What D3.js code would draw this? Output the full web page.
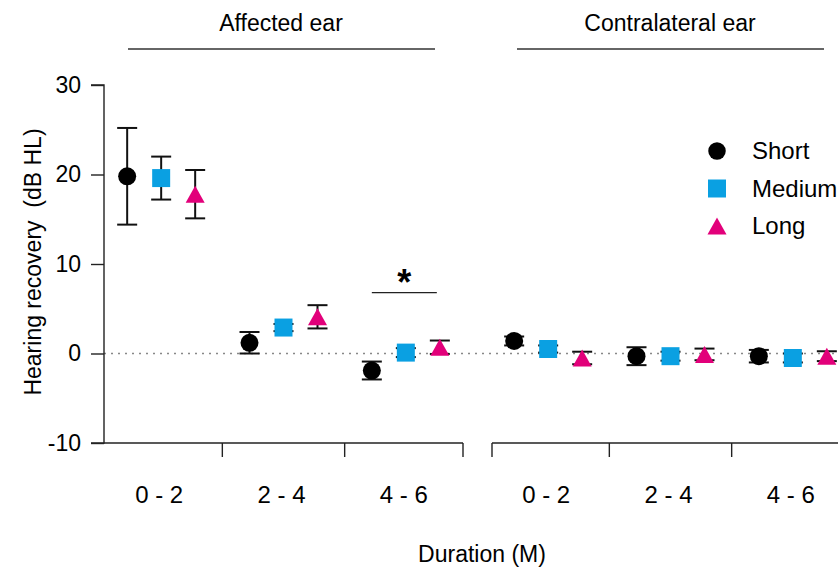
<!DOCTYPE html>
<html>
<head>
<meta charset="utf-8">
<script src="https://cdn.jsdelivr.net/npm/d3@7"></script>
<style>
  html, body { margin: 0; padding: 0; background: #fff; overflow: hidden; }
  svg { display: block; font-family: "Liberation Sans", Arial, sans-serif; }
</style>
</head>
<body>
<svg width="838" height="569"></svg>
<script>
// durations (months) and groups
var durations = ["0 - 2", "2 - 4", "4 - 6"];
var seriesNames = ["Short", "Medium", "Long"];
var yTicks = [-10, 0, 10, 20, 30];

// affected ear: mean and error (dB HL)
var affShortMean = [19.8, 1.2, -1.9];
var affShortErr = [5.4, 1.2, 1.0];
var affMediumMean = [19.6, 2.9, 0.1];
var affMediumErr = [2.4, 0.4, 0.5];
var affLongMean = [17.8, 4.1, 0.7];
var affLongErr = [2.7, 1.3, 0.75];

// contralateral ear
var conShortMean = [1.4, -0.3, -0.3];
var conShortErr = [0.5, 1.0, 0.7];
var conMediumMean = [0.5, -0.3, -0.5];
var conMediumErr = [0.4, 0.5, 0.5];
var conLongMean = [-0.5, -0.1, -0.3];
var conLongErr = [0.7, 0.65, 0.55];

var colors = {"Short": "#000000", "Medium": "#0aa0e2", "Long": "#e2007a"};

var svg = d3.select("svg");

var y = d3.scaleLinear().domain([-10, 30]).range([443, 85]);

var panels = [
	{name: "Affected ear", x: d3.scaleBand().domain(durations).range([100, 467]), axisFrom: 104, axisTo: 463,
	 means: [affShortMean, affMediumMean, affLongMean], errs: [affShortErr, affMediumErr, affLongErr],
	 lineFrom: 128, lineTo: 435},
	{name: "Contralateral ear", x: d3.scaleBand().domain(durations).range([487, 854]), axisFrom: 492, axisTo: 860,
	 means: [conShortMean, conMediumMean, conLongMean], errs: [conShortErr, conMediumErr, conLongErr],
	 lineFrom: 517, lineTo: 824}
];

var offset = d3.scalePoint().domain(seriesNames).range([-34, 34]);

// zero reference line
svg.append("line")
	.attr("x1", 104).attr("x2", 838)
	.attr("y1", y(0)).attr("y2", y(0))
	.style("stroke", "#888")
	.style("stroke-width", 1.3)
	.style("stroke-dasharray", "2,5");

// y axis
var yAxis = svg.append("g")
	.attr("transform", "translate(104,0)")
	.call(d3.axisLeft(y).tickValues(yTicks).tickSize(13).tickPadding(10).tickFormat(d => String(d)));
yAxis.select(".domain").attr("d", "M-13," + y(30) + "H0V" + y(-10) + "H-13").style("stroke", "#222").style("stroke-width", 1.4);
yAxis.selectAll(".tick line").style("stroke", "#222").style("stroke-width", 1.4);
yAxis.selectAll(".tick text").style("font-size", "23px").style("fill", "#000")
	.style("font-family", "Liberation Sans, Arial, sans-serif");

svg.append("text")
	.attr("transform", "translate(41,262) rotate(-90)")
	.attr("text-anchor", "middle")
	.style("font-size", "23px")
	.style("white-space", "pre")
	.text("Hearing recovery\u00a0 (dB HL)");

function symbolPath(name) {
	if (name === "Short") return d3.symbol().type(d3.symbolCircle).size(255)();
	if (name === "Medium") return d3.symbol().type(d3.symbolSquare).size(324)();
	// triangle centred on its box
	var w = 19, h = 17;
	return "M0," + (-h / 2) + "L" + (w / 2) + "," + (h / 2) + "L" + (-w / 2) + "," + (h / 2) + "Z";
}

panels.forEach(function(p) {
	// x axis line with ticks
	svg.append("line")
		.attr("x1", p.axisFrom).attr("x2", p.axisTo)
		.attr("y1", 443).attr("y2", 443)
		.style("stroke", "#222").style("stroke-width", 1.4);

	var tickXs = durations.slice(1).map(function(d) { return p.x(d); });
	if (p.name === "Affected ear") tickXs.push(p.axisTo);
	else tickXs.unshift(p.axisFrom);
	svg.selectAll(null)
		.data(tickXs)
		.enter()
		.append("line")
		.attr("x1", d => d).attr("x2", d => d)
		.attr("y1", 443).attr("y2", 457)
		.style("stroke", "#222").style("stroke-width", 1.4);

	svg.selectAll(null)
		.data(durations)
		.enter()
		.append("text")
		.attr("x", d => p.x(d) + p.x.bandwidth() / 2 - 2)
		.attr("y", 503)
		.attr("text-anchor", "middle")
		.style("font-size", "24px")
		.text(d => d);

	// panel title and underline
	svg.append("text")
		.attr("x", (p.lineFrom + p.lineTo) / 2 - 0.5)
		.attr("y", 31)
		.attr("text-anchor", "middle")
		.style("font-size", "23px")
		.text(p.name);
	svg.append("line")
		.attr("x1", p.lineFrom).attr("x2", p.lineTo)
		.attr("y1", 49).attr("y2", 49)
		.style("stroke", "#333").style("stroke-width", 1.4);

	var points = [];
	seriesNames.forEach(function(s, si) {
		durations.forEach(function(d, di) {
			points.push({series: s, dur: d, mean: p.means[si][di], err: p.errs[si][di]});
		});
	});
	var cx = d => p.x(d.dur) + p.x.bandwidth() / 2 + offset(d.series);

	// error bars behind markers
	var eb = svg.append("g").selectAll("g")
		.data(points)
		.enter()
		.append("g")
		.style("stroke", "#111").style("stroke-width", 2);
	eb.append("line")
		.attr("x1", cx).attr("x2", cx)
		.attr("y1", d => y(d.mean + d.err)).attr("y2", d => y(d.mean - d.err));
	eb.append("line")
		.attr("x1", d => cx(d) - 10).attr("x2", d => cx(d) + 10)
		.attr("y1", d => y(d.mean + d.err)).attr("y2", d => y(d.mean + d.err));
	eb.append("line")
		.attr("x1", d => cx(d) - 10).attr("x2", d => cx(d) + 10)
		.attr("y1", d => y(d.mean - d.err)).attr("y2", d => y(d.mean - d.err));

	svg.append("g").selectAll("path")
		.data(points)
		.enter()
		.append("path")
		.attr("d", d => symbolPath(d.series))
		.attr("transform", d => "translate(" + cx(d) + "," + y(d.mean) + ")")
		.style("fill", d => colors[d.series]);
});

// significance bracket (affected ear, 4 - 6)
var px = panels[0].x;
var bx1 = px("4 - 6") + px.bandwidth() / 2 + offset("Short");
var bx2 = px("4 - 6") + px.bandwidth() / 2 + offset("Long") - 3;
svg.append("line")
	.attr("x1", bx1).attr("x2", bx2)
	.attr("y1", y(6.8)).attr("y2", y(6.8))
	.style("stroke", "#222").style("stroke-width", 1.4);
svg.append("text")
	.attr("x", (bx1 + bx2) / 2)
	.attr("y", y(6.8) + 2)
	.attr("text-anchor", "middle")
	.style("font-size", "36px")
	.style("font-weight", "bold")
	.text("*");

// legend
var legend = svg.append("g").selectAll("g")
	.data(seriesNames)
	.enter()
	.append("g")
	.attr("transform", (d, i) => "translate(717," + (151 + i * 37.5) + ")");
legend.append("path")
	.attr("d", d => d === "Short" ? d3.symbol().type(d3.symbolCircle).size(240)() : symbolPath(d))
	.style("fill", d => colors[d]);
legend.append("text")
	.attr("x", 35)
	.attr("y", 8)
	.style("font-size", "24px")
	.text(d => d);

// x axis title
svg.append("text")
	.attr("x", 482)
	.attr("y", 562)
	.attr("text-anchor", "middle")
	.style("font-size", "23px")
	.text("Duration (M)");
</script>
</body>
</html>
